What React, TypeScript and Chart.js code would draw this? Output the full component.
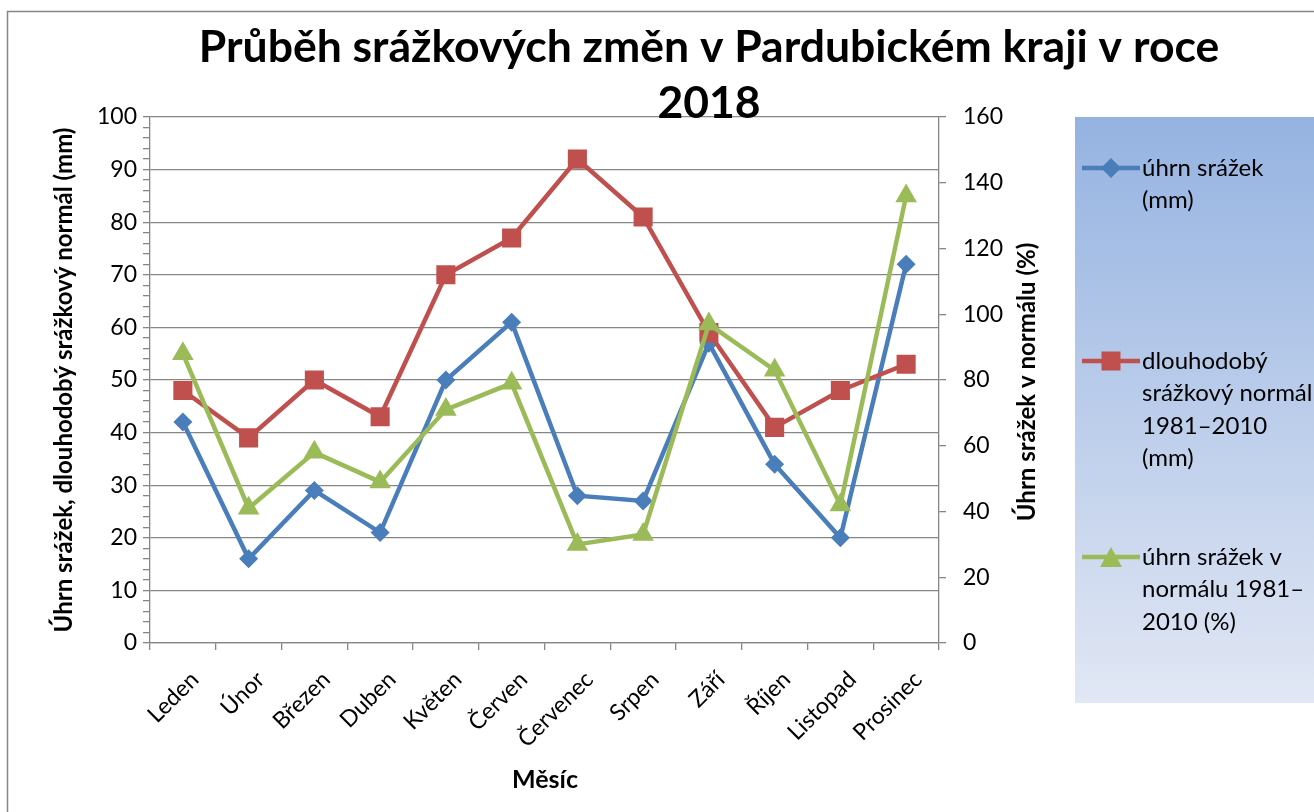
import React, { useEffect, useRef } from 'react';
import { Chart, registerables } from 'chart.js';

Chart.register(...registerables);

const chartTitle = ['Průběh srážkových změn v Pardubickém kraji v roce', '2018'];
const months = ['Leden', 'Únor', 'Březen', 'Duben', 'Květen', 'Červen', 'Červenec', 'Srpen', 'Září', 'Říjen', 'Listopad', 'Prosinec'];
const uhrnMm = [42, 16, 29, 21, 50, 61, 28, 27, 57, 34, 20, 72];
const normalMm = [48, 39, 50, 43, 70, 77, 92, 81, 59, 41, 48, 53];
const uhrnPct = [88, 41, 58, 49, 71, 79, 30, 33, 97, 83, 42, 136];
const seriesLabels = [
  'úhrn srážek (mm)',
  'dlouhodobý srážkový normál 1981–2010 (mm)',
  'úhrn srážek v normálu 1981–2010 (%)',
];
const legendLines = [
  ['úhrn srážek', '(mm)'],
  ['dlouhodobý', 'srážkový normál', '1981–2010', '(mm)'],
  ['úhrn srážek v', 'normálu 1981–', '2010 (%)'],
];
const leftAxisTitle = 'Úhrn srážek, dlouhodobý srážkový normál (mm)';
const rightAxisTitle = 'Úhrn srážek v normálu (%)';
const xAxisTitle = 'Měsíc';
const leftRange = [0, 100];
const rightRange = [0, 160];

const FONT = 'Lato, "Open Sans", sans-serif';
const GRID = '#868686';
const BLUE = '#4a7ebb';
const RED = '#c0504d';
const GREEN = '#9bbb59';
const markerStyles = ['diamond', 'square', 'triangle'];

function drawMarker(ctx: CanvasRenderingContext2D, kind: string, x: number, y: number, color: string) {
  ctx.save();
  ctx.fillStyle = color;
  ctx.beginPath();
  if (kind === 'diamond') {
    const r = 10;
    ctx.moveTo(x, y - r); ctx.lineTo(x + r, y); ctx.lineTo(x, y + r); ctx.lineTo(x - r, y);
  } else if (kind === 'square') {
    const h = 9.5;
    ctx.rect(x - h, y - h, 2 * h, 2 * h);
  } else {
    const w = 11, h = 10;
    ctx.moveTo(x, y - h); ctx.lineTo(x + w, y + h); ctx.lineTo(x - w, y + h);
  }
  ctx.closePath();
  ctx.fill();
  ctx.restore();
}

const decor = {
  id: 'decor',
  beforeDraw(chart: any) {
    const ctx: CanvasRenderingContext2D = chart.ctx;
    ctx.save();
    ctx.fillStyle = '#ffffff';
    ctx.fillRect(0, 0, chart.width, chart.height);
    ctx.strokeStyle = GRID;
    ctx.lineWidth = 1.5;
    ctx.strokeRect(7.5, 11.5, chart.width + 40, chart.height + 40);
    const g = ctx.createLinearGradient(0, 117, 0, 703);
    g.addColorStop(0, '#95b3e1');
    g.addColorStop(1, '#e1e7f4');
    ctx.fillStyle = g;
    ctx.fillRect(1075, 117, 300, 586);
    ctx.restore();
  },
  afterDraw(chart: any) {
    const ctx: CanvasRenderingContext2D = chart.ctx;
    ctx.save();
    ctx.fillStyle = '#000';
    ctx.textAlign = 'center';
    ctx.textBaseline = 'middle';
    // title
    ctx.font = `bold 44.5px ${FONT}`;
    ctx.fillText(chartTitle[0], 709, 48);
    ctx.fillText(chartTitle[1], 709, 104);
    // axis titles
    ctx.font = `bold 24px ${FONT}`;
    ctx.save();
    ctx.translate(64, 380);
    ctx.rotate(-Math.PI / 2);
    ctx.fillText(leftAxisTitle, 0, 0);
    ctx.restore();
    ctx.save();
    ctx.translate(1027, 382);
    ctx.rotate(-Math.PI / 2);
    ctx.fillText(rightAxisTitle, 0, 0);
    ctx.restore();
    ctx.font = `bold 25px ${FONT}`;
    ctx.fillText(xAxisTitle, 545, 780);
    // legend
    const starts = [168, 361, 557];
    ctx.font = `24px ${FONT}`;
    ctx.textAlign = 'left';
    chart.data.datasets.forEach((ds: any, i: number) => {
      const y = starts[i];
      ctx.save();
      ctx.strokeStyle = ds.borderColor;
      ctx.lineWidth = 4.5;
      ctx.beginPath();
      ctx.moveTo(1082, y);
      ctx.lineTo(1140, y);
      ctx.stroke();
      ctx.restore();
      drawMarker(ctx, markerStyles[i], 1111, y, ds.backgroundColor);
      ctx.fillStyle = '#000';
      legendLines[i].forEach((line, j) => {
        ctx.fillText(line, 1142, y + j * 32.5);
      });
    });
    ctx.restore();
  },
};

export default function App() {
  const ref = useRef<HTMLCanvasElement>(null);
  useEffect(() => {
    if (!ref.current) return;
    const tickFont = { family: FONT, size: 23 };
    const chart = new Chart(ref.current, {
      type: 'line',
      data: {
        labels: months,
        datasets: [
          {
            label: seriesLabels[0],
            data: uhrnMm,
            yAxisID: 'y',
            borderColor: BLUE,
            backgroundColor: BLUE,
            borderWidth: 4.5,
            pointStyle: 'rectRot',
            pointRadius: 9.5,
            pointBorderWidth: 0,
            order: 2,
          },
          {
            label: seriesLabels[1],
            data: normalMm,
            yAxisID: 'y',
            borderColor: RED,
            backgroundColor: RED,
            borderWidth: 4.5,
            pointStyle: 'rect',
            pointRadius: 13.5,
            pointBorderWidth: 0,
            order: 1,
          },
          {
            label: seriesLabels[2],
            data: uhrnPct,
            yAxisID: 'y1',
            borderColor: GREEN,
            backgroundColor: GREEN,
            borderWidth: 4.5,
            pointStyle: 'triangle',
            pointRadius: 12.5,
            pointBorderWidth: 0,
            order: 0,
          },
        ],
      },
      options: {
        responsive: false,
        animation: false,
        devicePixelRatio: 1,
        layout: { padding: { top: 117, left: 0, right: 254, bottom: 0 } },
        plugins: { legend: { display: false }, title: { display: false }, tooltip: { enabled: false } },
        elements: { line: { tension: 0 } },
        scales: {
          x: {
            type: 'category',
            offset: true,
            grid: { drawOnChartArea: false, offset: true, tickLength: 7, color: GRID, tickColor: GRID, lineWidth: 1.3 },
            border: { color: GRID, width: 1.3 },
            ticks: { font: tickFont, color: '#000', minRotation: 45, maxRotation: 45, padding: 16, labelOffset: 12, autoSkip: false },
            afterFit: (s: any) => { s.height = 169; },
          },
          y: {
            position: 'left',
            min: leftRange[0],
            max: leftRange[1],
            ticks: {
              stepSize: 2,
              autoSkip: false,
              font: tickFont,
              color: '#000',
              padding: 6,
              callback: (v: any) => (Number(v) % 10 === 0 ? String(v) : ''),
            },
            grid: {
              tickLength: 7,
              lineWidth: 1.3,
              color: (c: any) => (c.tick && c.tick.value % 10 === 0 ? GRID : 'rgba(0,0,0,0)'),
              tickColor: GRID,
            },
            border: { color: GRID, width: 1.3 },
            afterFit: (s: any) => { s.width = 150; },
          },
          y1: {
            position: 'right',
            min: rightRange[0],
            max: rightRange[1],
            ticks: { stepSize: 20, font: tickFont, color: '#000', padding: 17 },
            grid: { drawOnChartArea: false, tickLength: 7, color: GRID, tickColor: GRID, lineWidth: 1.3 },
            border: { color: GRID, width: 1.3 },
            afterFit: (s: any) => { s.width = 121; },
          },
        },
      },
      plugins: [decor],
    });
    return () => chart.destroy();
  }, []);
  return (
    <div style={{ position: 'absolute', left: 0, top: 0, width: 1314, height: 812 }}>
      <canvas ref={ref} width={1314} height={812} style={{ display: 'block', width: 1314, height: 812 }} />
    </div>
  );
}
